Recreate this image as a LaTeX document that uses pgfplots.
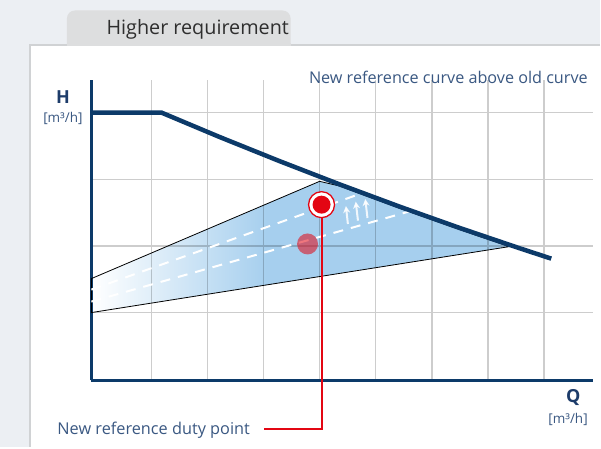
\documentclass[border=0pt]{standalone}
\usepackage{fontspec}
\setmainfont{Open Sans}
\usepackage{pgfplots}
\pgfplotsset{compat=1.18}
\usetikzlibrary{arrows.meta}
\definecolor{navy}{RGB}{12,58,105}
\definecolor{labnavy}{RGB}{29,60,106}
\definecolor{txtblue}{RGB}{58,88,130}
\definecolor{triblue}{RGB}{166,207,238}
\definecolor{bggray}{RGB}{236,239,243}
\definecolor{tabgray}{RGB}{221,222,223}
\definecolor{panelborder}{RGB}{208,210,212}
\definecolor{gridgray}{RGB}{205,205,205}
\definecolor{dutyred}{RGB}{227,6,19}
\pgfdeclarehorizontalshading{trishade}{100bp}{color(0bp)=(white); color(25bp)=(white); color(46bp)=(triblue); color(100bp)=(triblue)}
\begin{document}
\begin{tikzpicture}
\fill[bggray] (0,0) rectangle (601pt,448pt);
\fill[tabgray, rounded corners=8pt] (67pt,390pt) rectangle (291pt,437.5pt);
\fill[white] (30pt,0pt) rectangle (601pt,403pt);
\draw[panelborder, line width=1.6pt] (601pt,403pt) -- (30pt,403pt) -- (30pt,0pt);
\fill[tabgray] (67pt,402.2pt) rectangle (291pt,404.5pt);
\node[font=\fontsize{19.8}{22}\selectfont, text=black!82] at (198pt,419pt) {Higher requirement};
\begin{axis}[at={(91.5pt,67pt)}, anchor=south west, scale only axis,
  width=502.5pt, height=301pt,
  xmin=-0.0784, xmax=8.879, ymin=-0.0195, ymax=4.493,
  axis lines=left, axis line style={-, line width=2.6pt, draw=navy},
  xtick={1,...,8}, ytick={1,...,4}, xticklabels={}, yticklabels={},
  major tick length=0pt, grid=major, grid style={gridgray, line width=1.2pt},
  clip=false]
% operating range (triangle)
\addplot[draw=black, line width=0.8pt, shading=trishade, blend mode=multiply]
  coordinates {(-0.0784,1.51) (3.995,2.97) (4.351,2.90) (5.421,2.566) (6.490,2.247) (7.381,1.99) (-0.0784,1.0)} -- cycle;
% old / new dashed control curves
\addplot[white, line width=2pt, dash pattern=on 10pt off 8pt]
  coordinates {(-0.0784,1.345) (4.71,2.78)};
\addplot[white, line width=2pt, dash pattern=on 10pt off 8pt]
  coordinates {(-0.0784,1.165) (5.69,2.54)};
% max curve
\addplot[navy, line width=4.5pt]
  coordinates {(-0.0784,4.0) (1.178,4.0) (2.212,3.635) (3.282,3.273) (4.351,2.925) (5.421,2.591) (6.490,2.272) (7.560,1.967) (8.130,1.810)};
% arrows
\addplot[white, opacity=0.85, line width=2pt, -{Stealth[length=7pt,width=7pt]}]
  coordinates {(4.50,2.33) (4.465,2.60)};
\addplot[white, opacity=0.85, line width=2pt, -{Stealth[length=7pt,width=7pt]}]
  coordinates {(4.68,2.38) (4.64,2.665)};
\addplot[white, opacity=0.85, line width=2pt, -{Stealth[length=7pt,width=7pt]}]
  coordinates {(4.85,2.42) (4.81,2.705)};
% old duty point
\addplot[only marks, color=dutyred, mark=*, mark size=10.5pt, mark options={fill=dutyred, fill opacity=0.55, draw opacity=0}]
  coordinates {(3.78,2.03)};
% pointer line
\addplot[dutyred, line width=2pt]
  coordinates {(4.04,2.62) (4.04,-0.744) (2.997,-0.744)};
% new duty point
\addplot[only marks, color=dutyred, mark=*, mark size=13pt, mark options={draw=dutyred, fill=white, line width=1.3pt}]
  coordinates {(4.03,2.62)};
\addplot[only marks, color=dutyred, mark=*, mark size=9pt, mark options={fill=dutyred, draw opacity=0}]
  coordinates {(4.03,2.62)};
\end{axis}
\node[anchor=east, text=txtblue, font=\fontsize{16.2}{18}\selectfont] at (592pt,371pt) {New reference curve above old curve};
\node[anchor=west, text=txtblue, font=\fontsize{16.3}{18}\selectfont] at (54pt,17pt) {New reference duty point};
\node[font=\bfseries\fontsize{18}{20}\selectfont, text=labnavy] at (63pt,351pt) {H};
\node[font=\fontsize{13.5}{16}\selectfont, text=txtblue] at (63pt,329pt) {[m³/h]};
\node[font=\bfseries\fontsize{18}{20}\selectfont, text=labnavy] at (574pt,50pt) {Q};
\node[anchor=east, font=\fontsize{13.5}{16}\selectfont, text=txtblue] at (592pt,28pt) {[m³/h]};
\end{tikzpicture}
\end{document}
